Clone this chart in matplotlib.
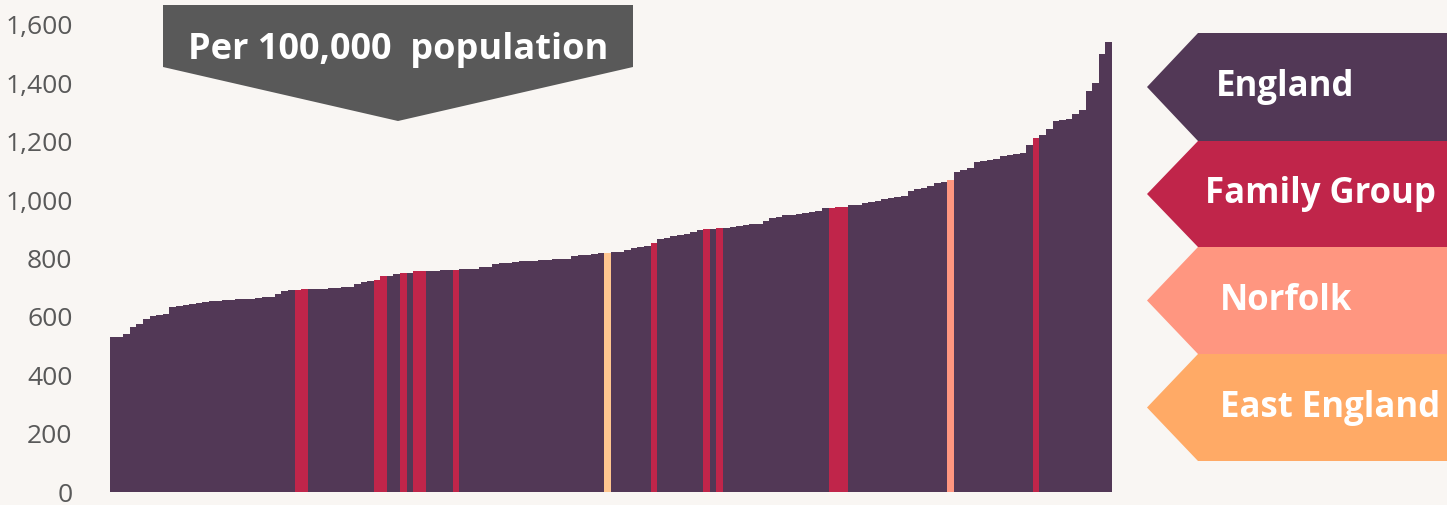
import matplotlib
matplotlib.use("Agg")
import matplotlib.pyplot as plt
from matplotlib.patches import Polygon
from matplotlib.ticker import FuncFormatter

# rate per 100,000 population, one bar per local authority, sorted ascending
rates = [
    530, 530, 540, 565, 577, 594, 603, 606, 611, 633,
    637, 641, 645, 649, 652, 654, 655, 657, 658, 661,
    662, 662, 666, 667, 668, 678, 690, 692, 693, 694,
    695, 696, 697, 699, 700, 701, 704, 712, 718, 722,
    725, 739, 741, 746, 750, 752, 756, 756, 758, 758,
    759, 759, 762, 763, 764, 765, 770, 772, 781, 784,
    786, 787, 790, 791, 793, 794, 796, 797, 799, 800,
    808, 812, 813, 817, 818, 820, 821, 823, 830, 836,
    840, 842, 852, 866, 869, 878, 880, 884, 892, 896,
    900, 902, 903, 906, 907, 911, 915, 917, 919, 930,
    938, 942, 948, 950, 952, 955, 959, 964, 972, 973,
    976, 977, 982, 984, 989, 994, 996, 1005, 1007, 1012,
    1015, 1031, 1038, 1040, 1047, 1059, 1063, 1069, 1095, 1103,
    1111, 1132, 1134, 1139, 1141, 1152, 1156, 1157, 1160, 1190,
    1212, 1223, 1243, 1272, 1274, 1279, 1294, 1309, 1375, 1400,
    1500, 1542,
]
family_group = [28, 29, 40, 41, 44, 46, 47, 52, 82, 90, 92, 109, 110, 111, 140]
norfolk = [127]
east_england = [75]

legend_labels = ["England", "Family Group", "Norfolk", "East England"]
legend_colors = ["#523856", "#C0254A", "#FF9680", "#FFAA66"]
yticks = [0, 200, 400, 600, 800, 1000, 1200, 1400, 1600]

bg = "#F9F6F3"
W, H = 1447, 505

colors = []
for i in range(len(rates)):
    if i in family_group:
        colors.append("#C0254A")
    elif i in norfolk:
        colors.append("#FF9680")
    elif i in east_england:
        colors.append("#FFC690")
    else:
        colors.append("#523856")

plt.rcParams['font.family'] = ['Open Sans', 'DejaVu Sans']

fig = plt.figure(figsize=(W / 100, H / 100), dpi=100, facecolor=bg)
ax = fig.add_axes([110 / W, 13 / H, 1002 / W, 467 / H])
ax.set_facecolor(bg)

ax.bar(range(len(rates)), rates, width=1.0, color=colors, linewidth=0)
ax.set_xlim(-0.5, len(rates) - 0.5)
ax.set_ylim(0, 1600)
ax.set_yticks(yticks)
ax.yaxis.set_major_formatter(FuncFormatter(lambda v, p: f"{int(v):,}"))
ax.tick_params(axis='y', length=0, pad=27, labelsize=19, labelcolor="#595959")
ax.set_xticks([])
for s in ax.spines.values():
    s.set_visible(False)


def px(points):
    # pixel coords (from top-left) -> figure fraction
    return [(x / W, 1 - y / H) for x, y in points]


# banner
banner = Polygon(px([(163, 5), (633, 5), (633, 67), (398, 121), (163, 67)]),
                 closed=True, transform=fig.transFigure, facecolor="#595959", edgecolor="none")
fig.add_artist(banner)
fig.text(398 / W, 1 - 50 / H, "Per 100,000  population", color="white", fontsize=26,
         fontweight="bold", ha="center", va="center")

# arrow legend on the right
tops = [33, 141, 247, 354, 461]
text_x = [1216, 1205, 1220, 1220]
for k, (lab, col) in enumerate(zip(legend_labels, legend_colors)):
    y0, y1 = tops[k], tops[k + 1]
    ym = (y0 + y1) / 2
    shape = Polygon(px([(1198, y0), (1447, y0), (1447, y1), (1198, y1), (1147, ym)]),
                    closed=True, transform=fig.transFigure, facecolor=col, edgecolor="none")
    fig.add_artist(shape)
    fig.text(text_x[k] / W, 1 - ym / H, lab, color="white",
             fontsize=25, fontweight="bold", ha="left", va="center")

fig.savefig("out.png", dpi=100, facecolor=bg)
